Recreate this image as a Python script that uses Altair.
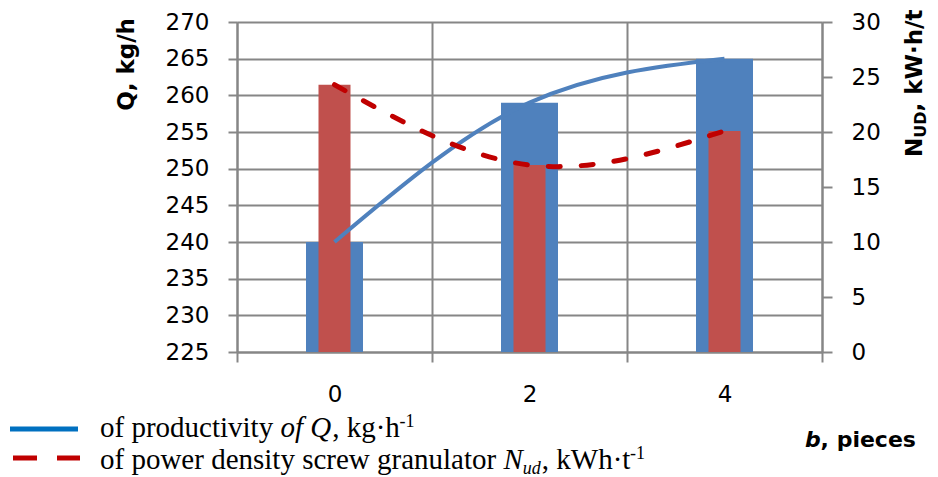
import altair as alt
import pandas as pd

# ---- data ----
categories = ["0", "2", "4"]
q_values = [240, 259, 265]          # Q, kg/h (left axis)
n_values = [24.3, 17.0, 20.1]       # N_UD, kW·h/t (right axis)
q_ticks = [225, 230, 235, 240, 245, 250, 255, 260, 265, 270]
n_ticks = [0, 5, 10, 15, 20, 25, 30]

legend_1 = ["of productivity", "of Q", ", kg·h", "-1"]
legend_2 = ["of power density screw granulator", "N", "ud", ", kWh·t", "-1"]
left_title = "Q, kg/h"
right_title = ["N", "UD", ", kW·h/t"]
x_title = ["b", ", pieces"]

df = pd.DataFrame({"b": categories, "Q": q_values, "N": n_values})

# ---- layout ----
W, H = 585, 330
OX, OY = 237, 22          # plot origin in page coordinates
GRID = "#868686"
BLUE = "#4F81BD"
RED_BAR = "#C0504D"
RED_LINE = "#C00000"
TICK_FONT = "DejaVu Sans"
SERIF = "Liberation Serif"


def px(x):
    return x - OX


def py(y):
    return y - OY


xenc = alt.X(
    "b:N", sort=categories,
    scale=alt.Scale(type="band", paddingInner=0, paddingOuter=0),
    axis=alt.Axis(title=None, tickBand="extent", grid=True, gridColor=GRID,
                  gridWidth=2, domainColor=GRID, domainWidth=2, tickColor=GRID,
                  tickWidth=2, tickSize=10, labelFont=TICK_FONT, labelFontSize=23,
                  labelColor="black", labelPadding=21, labelAngle=0),
)

qscale = alt.Scale(domain=[225, 270], zero=False, nice=False)
nscale = alt.Scale(domain=[0, 30], zero=False, nice=False)

blue_bars = alt.Chart(df).mark_bar(size=57, color=BLUE).encode(
    x=xenc,
    y=alt.Y("Q:Q", scale=qscale,
            axis=alt.Axis(orient="left", values=q_ticks, title=None, grid=True,
                          gridColor=GRID, gridWidth=2, domainColor=GRID, domainWidth=2,
                          tickColor=GRID, tickWidth=2, tickSize=9,
                          labelFont=TICK_FONT, labelFontSize=23, labelColor="black",
                          labelPadding=19, labelFlush=False, labelOverlap=False)),
    y2=alt.Y2(datum=225),
)

red_bars = alt.Chart(df).mark_bar(size=32, color=RED_BAR).encode(
    x=xenc,
    y=alt.Y("N:Q", scale=nscale,
            axis=alt.Axis(orient="right", values=n_ticks, title=None, grid=False,
                          domainColor=GRID, domainWidth=2,
                          tickColor=GRID, tickWidth=2, tickSize=10,
                          labelFont=TICK_FONT, labelFontSize=23, labelColor="black",
                          labelPadding=19, labelFlush=False, labelOverlap=False)),
    y2=alt.Y2(datum=0),
)

blue_line = alt.Chart(df).mark_line(color=BLUE, strokeWidth=4, interpolate="monotone").encode(
    x=xenc,
    y=alt.Y("Q:Q", scale=qscale, axis=None),
)

red_line = alt.Chart(df).mark_line(color=RED_LINE, strokeWidth=5, interpolate="natural",
                                   strokeDash=[12, 21], strokeCap="round").encode(
    x=xenc,
    y=alt.Y("N:Q", scale=nscale, axis=None),
)

one = alt.Data(values=[{}])


def text(t, x, y, size, font, **kw):
    return alt.Chart(one).mark_text(text=t, font=font, fontSize=size, color="black",
                                    align=kw.pop("align", "left"),
                                    baseline=kw.pop("baseline", "alphabetic"),
                                    **kw).encode(x=alt.value(px(x)), y=alt.value(py(y)))


def rule(x1, x2, y, color, **kw):
    return alt.Chart(one).mark_rule(color=color, strokeWidth=5, **kw).encode(
        x=alt.value(px(x1)), x2=alt.value(px(x2)), y=alt.value(py(y)))


FS = 29
SUP = 18
# legend line 1
l1y = 437
l1 = [
    text(legend_1[0], 100, l1y, FS, SERIF),
    text(legend_1[1], 100 + 6.222 * FS, l1y, FS, SERIF, fontStyle="italic"),
    text(legend_1[2], 100 + 7.972 * FS + 1, l1y, FS, SERIF),
    text(legend_1[3], 100 + 10.222 * FS + 3, l1y - 10, SUP, SERIF),
]
# legend line 2
l2y = 468.5
n_x = 100 + 13.913 * FS
l2 = [
    text(legend_2[0], 100, l2y, FS, SERIF),
    text(legend_2[1], n_x, l2y, FS, SERIF, fontStyle="italic"),
    text(legend_2[2], n_x + 0.667 * FS, l2y + 5, SUP, SERIF, fontStyle="italic"),
    text(legend_2[3], n_x + 0.667 * FS + 1.0 * SUP + 1, l2y, FS, SERIF),
    text(legend_2[4], n_x + 0.667 * FS + 1.0 * SUP + 2.972 * FS + 3, l2y - 10, SUP, SERIF),
]
legend_rules = [
    rule(10, 78, 429, "#0070C0"),
    rule(13, 80, 458, RED_LINE, strokeDash=[24, 20]),
]

# axis titles
TS = 23
RX = 922
titles = [
    text(left_title, 134, 18, TS, TICK_FONT, fontWeight="bold", angle=270, align="right"),
    text(right_title[0], RX, 157, TS, TICK_FONT, fontWeight="bold", angle=270),
    text(right_title[1], RX + 4, 157 - 0.837 * TS, 16, TICK_FONT, fontWeight="bold", angle=270),
    text(right_title[2], RX, 157 - 0.837 * TS - 1.642 * 16, TS, TICK_FONT,
         fontWeight="bold", angle=270),
    text(x_title[0], 805, 447, 22, TICK_FONT, fontWeight="bold", fontStyle="italic"),
    text(x_title[1], 805 + 0.71 * 22, 447, 22, TICK_FONT, fontWeight="bold"),
]

chart = alt.layer(
    blue_bars, red_bars, blue_line, red_line, *legend_rules, *l1, *l2, *titles
).resolve_scale(y="independent").properties(
    width=W, height=H,
    autosize=alt.AutoSizeParams(type="none"),
    padding={"left": OX - 8, "top": OY - 8, "right": 922 - (OX - 8) - W, "bottom": 469 - (OY - 8) - H},
).configure_view(stroke=None)

chart.save("out.html", embed_options={"renderer": "svg", "actions": False})
